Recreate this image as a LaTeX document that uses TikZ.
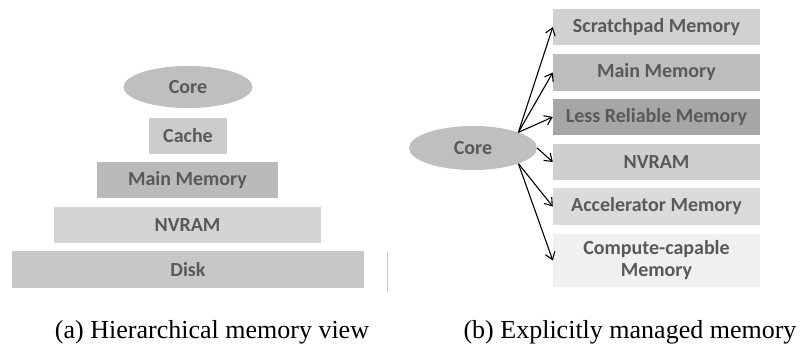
\documentclass[tikz,border=0pt]{standalone}
\usepackage{fontspec}
\setmainfont{Liberation Serif}
\newfontfamily\calfont{Carlito}
\usetikzlibrary{shapes.geometric,arrows.meta}
\definecolor{txtgray}{HTML}{595959}
\tikzset{
    membox/.style={rectangle, inner sep=0pt, text=txtgray, align=center,
        font=\calfont\bfseries\fontsize{20}{22}\selectfont},
    corenode/.style={ellipse, inner sep=0pt, fill=black!25, text=txtgray,
        font=\calfont\bfseries\fontsize{20}{22}\selectfont},
    arr/.style={line width=1.1pt, black, -{Straight Barb[length=7pt,width=10pt]}},
    caption/.style={inner sep=0pt, anchor=base, font=\fontsize{26}{30}\selectfont}
}
\begin{document}
\begin{tikzpicture}[x=1pt, y=-1pt]
        \useasboundingbox (0,0) rectangle (809,349);
        % (a) hierarchical view
        \node[corenode, minimum width=129pt, minimum height=42pt] (lcore) at (188,87) {Core};
        \node[membox, fill=black!20, minimum width=78pt, minimum height=36pt] (lcache) at (188,135.5) {Cache};
        \node[membox, fill=black!27, minimum width=181pt, minimum height=36pt] (lmain) at (187.5,180) {Main Memory};
        \node[membox, fill=black!17, minimum width=267pt, minimum height=36pt] (lnvram) at (187.5,225) {NVRAM};
        \node[membox, fill=black!22, minimum width=352pt, minimum height=37pt] (ldisk) at (188,269.5) {Disk};
        \draw[black!20, line width=1pt] (387,252) -- (387,292);
        % (b) explicitly managed view
        \node[corenode, minimum width=128pt, minimum height=44pt] (rcore) at (473,148) {Core};
        \node[membox, fill=black!18, minimum width=207pt, minimum height=36pt] (rscratch) at (656.5,27) {Scratchpad Memory};
        \node[membox, fill=black!26, minimum width=207pt, minimum height=37pt] (rmain) at (656.5,72.5) {Main Memory};
        \node[membox, fill=black!35, minimum width=207pt, minimum height=36pt] (rless) at (656.5,117) {Less Reliable Memory};
        \node[membox, fill=black!19, minimum width=207pt, minimum height=36pt] (rnvram) at (656.5,162) {NVRAM};
        \node[membox, fill=black!14, minimum width=207pt, minimum height=37pt] (raccel) at (656.5,206.5) {Accelerator Memory};
        \node[membox, fill=black!6, minimum width=207pt, minimum height=53pt] (rcompute) at (656.5,260.5) {Compute-capable\\Memory};
        \draw[arr] (rcore.north east) -- (rscratch.west);
        \draw[arr] (rcore.north east) -- (rmain.west);
        \draw[arr] (rcore.north east) -- (rless.west);
        \draw[arr] (rcore.east) -- (rnvram.west);
        \draw[arr] (rcore.south east) -- (raccel.west);
        \draw[arr] (rcore.south east) -- (rcompute.west);
        % captions
        \node[caption] (capa) at (212,338) {(a) Hierarchical memory view};
        \node[caption] (capb) at (630,338) {(b) Explicitly managed memory};
    \end{tikzpicture}
\end{document}
